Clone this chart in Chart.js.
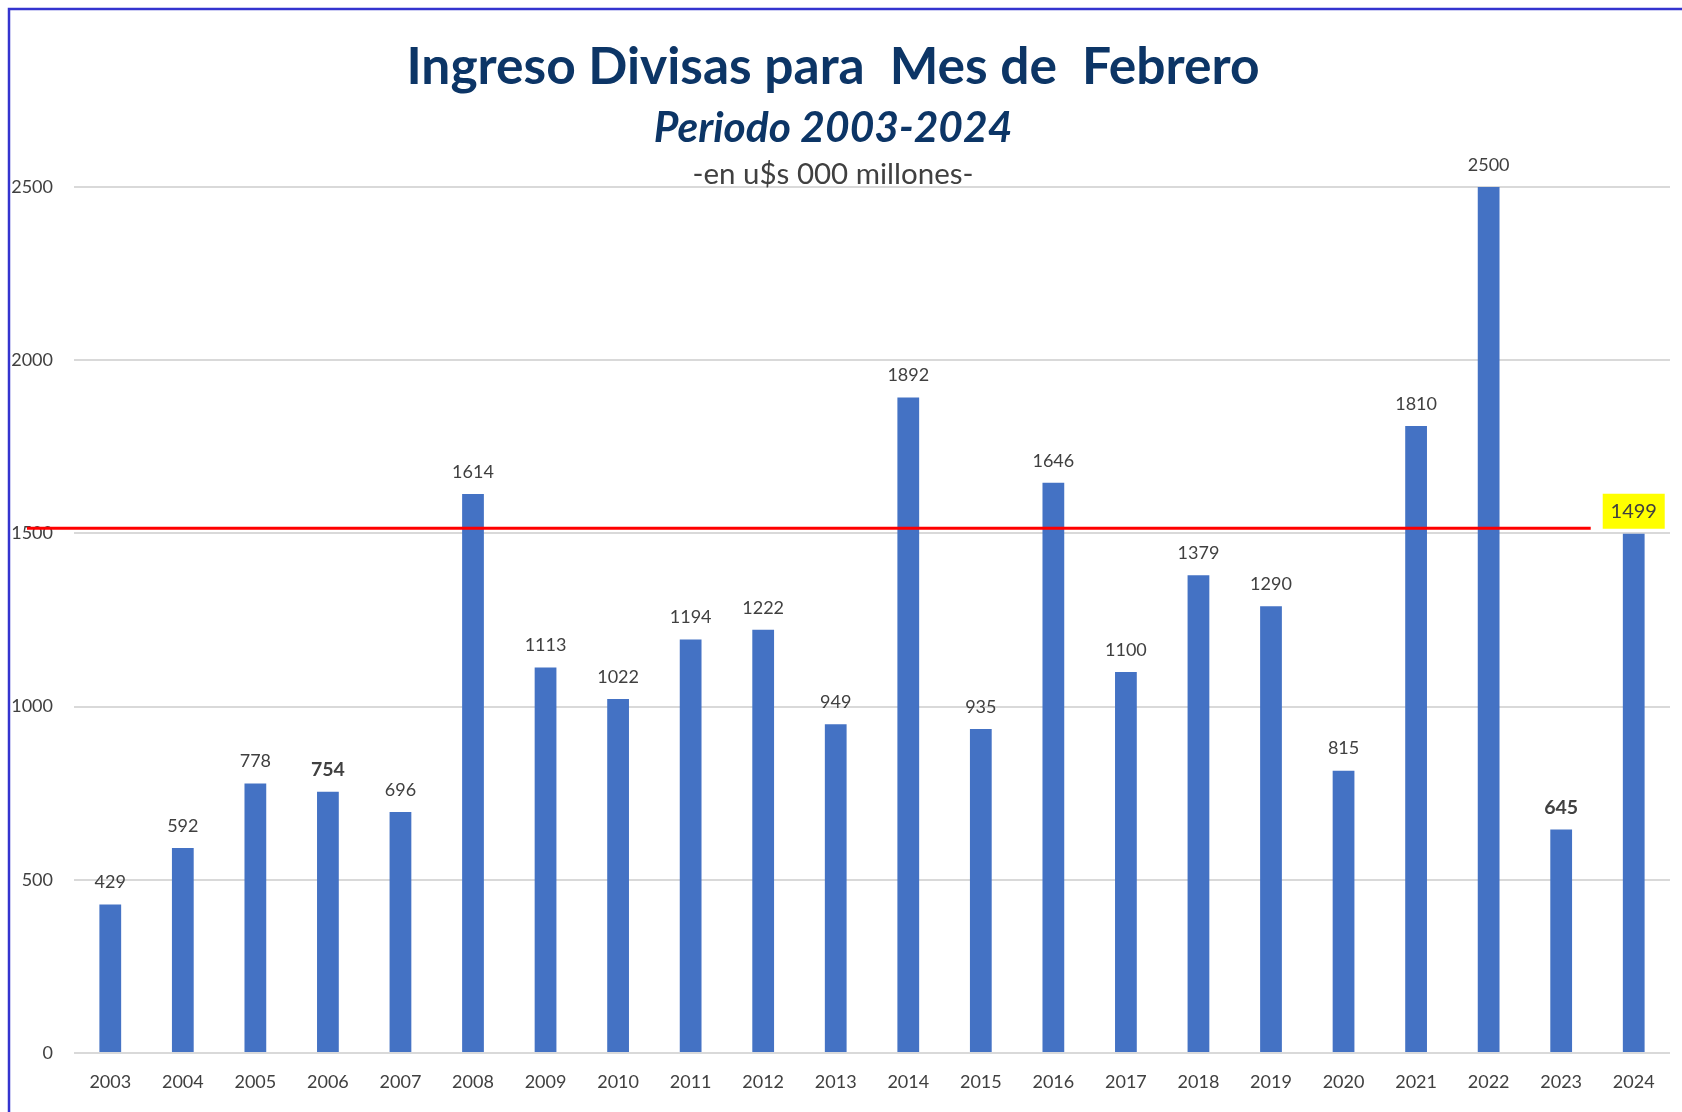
<!DOCTYPE html>
<html>
<head>
<meta charset="utf-8">
<script src="https://cdn.jsdelivr.net/npm/chart.js@4.4.1/dist/chart.umd.min.js"></script>
<style>
  html, body { margin: 0; padding: 0; background: #ffffff; }
  #wrap { position: relative; width: 1682px; height: 1112px; }
</style>
</head>
<body>
<div id="wrap"><canvas id="c" width="1682" height="1112"></canvas></div>
<script>
const years = ['2003','2004','2005','2006','2007','2008','2009','2010','2011','2012','2013','2014','2015','2016','2017','2018','2019','2020','2021','2022','2023','2024'];
const ingresos = [429, 592, 778, 754, 696, 1614, 1113, 1022, 1194, 1222, 949, 1892, 935, 1646, 1100, 1379, 1290, 815, 1810, 2500, 645, 1499];
const yTicks = [0, 500, 1000, 1500, 2000, 2500];
const boldYears = ['2006', '2023'];
const highlightYears = ['2024'];
const referenceLevel = 1515;
const titleText = 'Ingreso Divisas para  Mes de  Febrero';
const subtitleText = 'Periodo 2003-2024';
const unitText = '-en u$s 000 millones-';

const FONT = 'Lato, "Open Sans", sans-serif';
const TXT = '#404040';

const framePlugin = {
  id: 'frame',
  beforeDraw(chart) {
    const ctx = chart.ctx;
    ctx.save();
    ctx.fillStyle = '#ffffff';
    ctx.fillRect(0, 0, chart.width, chart.height);
    ctx.strokeStyle = '#3434CF';
    ctx.lineWidth = 2.5;
    ctx.beginPath();
    ctx.moveTo(chart.width, 9);
    ctx.lineTo(9, 9);
    ctx.lineTo(9, chart.height);
    ctx.stroke();
    ctx.restore();
  }
};

const titlesPlugin = {
  id: 'titles',
  afterDraw(chart) {
    const ctx = chart.ctx;
    const cx = 833;
    ctx.save();
    ctx.textAlign = 'center';
    ctx.textBaseline = 'alphabetic';
    ctx.fillStyle = '#0C3566';
    ctx.font = 'bold 51.5px ' + FONT;
    ctx.fillText(titleText, cx, 84);
    ctx.font = 'italic bold 42.5px ' + FONT;
    ctx.fillText(subtitleText, cx, 142);
    ctx.fillStyle = TXT;
    ctx.font = '29.5px ' + FONT;
    ctx.fillText(unitText, cx, 184);
    ctx.restore();
  }
};

const refLinePlugin = {
  id: 'refLine',
  afterDatasetsDraw(chart) {
    const y = chart.scales.y.getPixelForValue(referenceLevel);
    const xs = chart.scales.x;
    const endX = xs.getPixelForValue(years.length - 1) - 43;
    const ctx = chart.ctx;
    ctx.save();
    ctx.strokeStyle = '#FF0000';
    ctx.lineWidth = 3;
    ctx.beginPath();
    ctx.moveTo(27, y);
    ctx.lineTo(endX, y);
    ctx.stroke();
    ctx.restore();
  }
};

const labelsPlugin = {
  id: 'valueLabels',
  afterDatasetsDraw(chart) {
    const ctx = chart.ctx;
    const meta = chart.getDatasetMeta(0);
    ctx.save();
    ctx.textAlign = 'center';
    ctx.textBaseline = 'middle';
    meta.data.forEach((bar, i) => {
      const yr = years[i];
      const txt = String(ingresos[i]);
      const bold = boldYears.includes(yr);
      const hi = highlightYears.includes(yr);
      ctx.font = bold ? 'bold 19.5px ' + FONT : (hi ? '20px ' + FONT : '18px ' + FONT);
      const ty = bar.y - 22;
      if (hi) {
        ctx.fillStyle = '#FFFF00';
        ctx.fillRect(bar.x - 31, ty - 18, 62, 35);
      }
      ctx.fillStyle = TXT;
      ctx.fillText(txt, bar.x, ty);
    });
    ctx.restore();
  }
};

new Chart(document.getElementById('c'), {
  type: 'bar',
  data: {
    labels: years,
    datasets: [{
      data: ingresos,
      backgroundColor: '#4472C4',
      borderWidth: 0,
      categoryPercentage: 1.0,
      barPercentage: 0.30
    }]
  },
  options: {
    responsive: false,
    animation: false,
    devicePixelRatio: 1,
    layout: { padding: { top: 187, right: 12, bottom: 0, left: 0 } },
    plugins: { legend: { display: false }, tooltip: { enabled: false }, title: { display: false } },
    scales: {
      x: {
        grid: { display: false, drawTicks: false },
        border: { display: false },
        ticks: { color: TXT, font: { family: FONT, size: 18 }, padding: 18, maxRotation: 0, autoSkip: false },
        afterFit(scale) { scale.height = 59; }
      },
      y: {
        min: 0,
        max: 2500,
        afterBuildTicks(scale) { scale.ticks = yTicks.map(v => ({ value: v })); },
        grid: { color: '#D9D9D9', lineWidth: 2, drawTicks: false },
        border: { display: false },
        ticks: { color: TXT, font: { family: FONT, size: 18 }, padding: 21, callback: (v) => String(v) },
        afterFit(scale) { scale.width = 74; }
      }
    }
  },
  plugins: [framePlugin, titlesPlugin, refLinePlugin, labelsPlugin]
});
</script>
</body>
</html>
